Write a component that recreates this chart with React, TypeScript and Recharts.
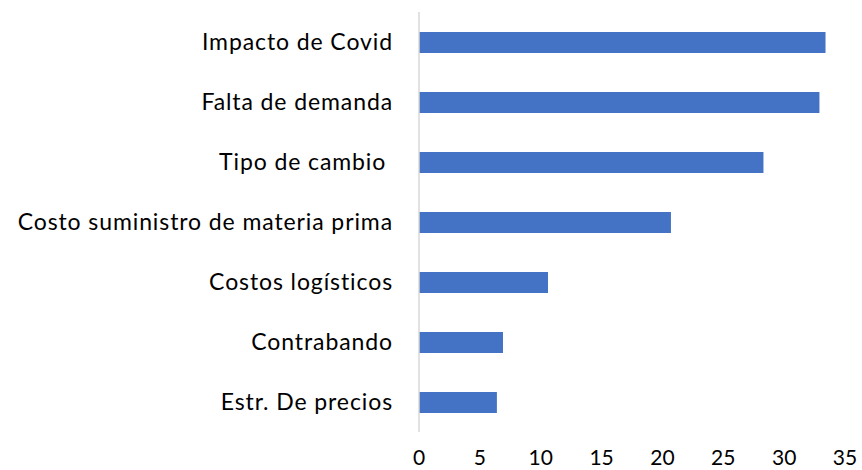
import React from 'react';
import { BarChart, Bar, XAxis, YAxis } from 'recharts';

const categories = [
  'Impacto de Covid',
  'Falta de demanda',
  'Tipo de cambio ',
  'Costo suministro de materia prima',
  'Costos logísticos',
  'Contrabando',
  'Estr. De precios',
];
const values = [33.4, 32.9, 28.3, 20.7, 10.6, 6.9, 6.4];
const xTicks = [0, 5, 10, 15, 20, 25, 30, 35];

const data = categories.map((name, i) => ({ name, value: values[i] }));

const FONT = 'Lato, "Open Sans", sans-serif';

const CategoryTick = (props: any) => {
  const { x, y, payload } = props;
  return (
    <text
      x={x}
      y={y}
      dy="0.35em"
      textAnchor="end"
      fill="#000"
      fontSize={23}
      letterSpacing={0.9}
      fontFamily={FONT}
      style={{ whiteSpace: 'pre' }}
    >
      {payload.value}
    </text>
  );
};

export default function App() {
  return (
    <div style={{ position: 'absolute', left: 0, top: 0, background: '#fff' }}>
      <BarChart
        layout="vertical"
        width={862}
        height={470}
        data={data}
        margin={{ top: 12, right: 17, bottom: 0, left: 0 }}
        barSize={21}
      >
        <XAxis
          type="number"
          domain={[0, 35]}
          ticks={xTicks}
          interval={0}
          axisLine={false}
          tickLine={false}
          tickSize={16}
          height={38}
          tick={{ fontSize: 21, fill: '#000', fontFamily: FONT }}
        />
        <YAxis
          type="category"
          dataKey="name"
          width={419}
          axisLine={{ stroke: '#d9d9d9', strokeWidth: 1.5 }}
          tickLine={false}
          tickSize={24}
          tick={<CategoryTick />}
        />
        <Bar dataKey="value" fill="#4472c4" isAnimationActive={false} />
      </BarChart>
    </div>
  );
}
